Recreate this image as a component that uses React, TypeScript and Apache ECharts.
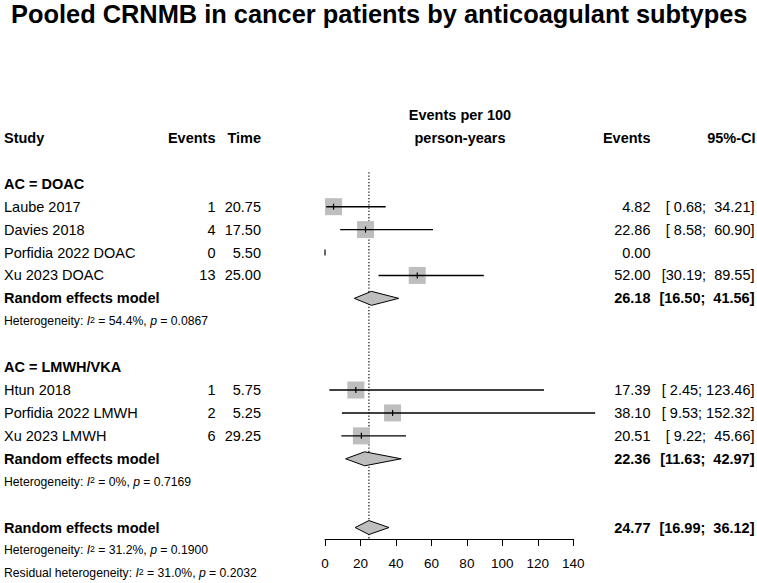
import React, { useEffect, useRef } from "react";
import * as echarts from "echarts";

// ---- data ----
const studies = ["Laube 2017", "Davies 2018", "Porfidia 2022 DOAC", "Xu 2023 DOAC", "Htun 2018", "Porfidia 2022 LMWH", "Xu 2023 LMWH"];
const studyGroup = [0, 0, 0, 0, 1, 1, 1];
const events = [1, 4, 0, 13, 1, 2, 6];
const times = [20.75, 17.5, 5.5, 25.0, 5.75, 5.25, 29.25];
const rates = [4.82, 22.86, 0.0, 52.0, 17.39, 38.1, 20.51];
const lower: (number | null)[] = [0.68, 8.58, null, 30.19, 2.45, 9.53, 9.22];
const upper: (number | null)[] = [34.21, 60.9, null, 89.55, 123.46, 152.32, 45.66];

const groupNames = ["AC = DOAC", "AC = LMWH/VKA"];
const groupRate = [26.18, 22.36];
const groupLower = [16.5, 11.63];
const groupUpper = [41.56, 42.97];
const groupI2 = ["54.4%", "0%"];
const groupP = ["0.0867", "0.7169"];

const overallRate = 24.77;
const overallLower = 16.99;
const overallUpper = 36.12;
const overallI2 = "31.2%";
const overallP = "0.1900";
const residualI2 = "31.0%";
const residualP = "0.2032";

const xTicks = [0, 20, 40, 60, 80, 100, 120, 140];
const title = "Pooled CRNMB in cancer patients by anticoagulant subtypes";

// ---- formatting ----
const FONT = '"Liberation Sans", Arial, Helvetica, sans-serif';
const f2 = (v: number) => v.toFixed(2);
const padL = (s: string, w: number) => " ".repeat(Math.max(0, w - s.length)) + s;
const allLo = [...lower.filter((v) => v !== null), ...groupLower, overallLower].map((v) => f2(v as number));
const allHi = [...upper.filter((v) => v !== null), ...groupUpper, overallUpper].map((v) => f2(v as number));
const wLo = Math.max(...allLo.map((s) => s.length));
const wHi = Math.max(...allHi.map((s) => s.length));
const ciText = (lo: number | null, hi: number | null) =>
  lo === null || hi === null ? "" : `[${padL(f2(lo), wLo)}; ${padL(f2(hi), wHi)}]`;

// ---- layout (columns in px, rows in row units) ----
const X_STUDY = 4;
const X_EVENTS = 215.5;
const X_TIME = 261;
const X_HEAD = 460;
const X_RATE = 650.5;
const X_CI = 754.5;
const FS = 14.5;
const FS_SMALL = 12.2;

type Item = { text: string; x: number; align: string; bold?: boolean; size?: number; rich?: boolean };
type TextRow = { row: number; items: Item[] };

const textRows: TextRow[] = [];
const studyRow: number[] = new Array(studies.length).fill(0);
const groupRow: number[] = [];

textRows.push({ row: 0, items: [{ text: "Events per 100", x: X_HEAD, align: "center", bold: true }] });
textRows.push({
  row: 1,
  items: [
    { text: "Study", x: X_STUDY, align: "left", bold: true },
    { text: "Events", x: X_EVENTS, align: "right", bold: true },
    { text: "Time", x: X_TIME, align: "right", bold: true },
    { text: "person-years", x: X_HEAD, align: "center", bold: true },
    { text: "Events", x: X_RATE, align: "right", bold: true },
    { text: "95%-CI", x: X_CI + 1, align: "right", bold: true },
  ],
});

const hetText = (label: string, i2: string, p: string) => `${label}: {i|I}{sup|2} = ${i2}, {i|p} = ${p}`;

let r = 3;
groupNames.forEach((g, gi) => {
  textRows.push({ row: r, items: [{ text: g, x: X_STUDY, align: "left", bold: true }] });
  r++;
  studies.forEach((s, i) => {
    if (studyGroup[i] !== gi) return;
    studyRow[i] = r;
    textRows.push({
      row: r,
      items: [
        { text: s, x: X_STUDY, align: "left" },
        { text: String(events[i]), x: X_EVENTS, align: "right" },
        { text: f2(times[i]), x: X_TIME, align: "right" },
        { text: f2(rates[i]), x: X_RATE, align: "right" },
        { text: ciText(lower[i], upper[i]), x: X_CI, align: "right" },
      ],
    });
    r++;
  });
  groupRow[gi] = r;
  textRows.push({
    row: r,
    items: [
      { text: "Random effects model", x: X_STUDY, align: "left", bold: true },
      { text: f2(groupRate[gi]), x: X_RATE, align: "right", bold: true },
      { text: ciText(groupLower[gi], groupUpper[gi]), x: X_CI, align: "right", bold: true },
    ],
  });
  r++;
  textRows.push({ row: r, items: [{ text: hetText("Heterogeneity", groupI2[gi], groupP[gi]), x: X_STUDY, align: "left", size: FS_SMALL, rich: true }] });
  r += 2;
});
const overallRow = r;
textRows.push({
  row: r,
  items: [
    { text: "Random effects model", x: X_STUDY, align: "left", bold: true },
    { text: f2(overallRate), x: X_RATE, align: "right", bold: true },
    { text: ciText(overallLower, overallUpper), x: X_CI, align: "right", bold: true },
  ],
});
textRows.push({ row: r + 1, items: [{ text: hetText("Heterogeneity", overallI2, overallP), x: X_STUDY, align: "left", size: FS_SMALL, rich: true }] });
textRows.push({ row: r + 2, items: [{ text: hetText("Residual heterogeneity", residualI2, residualP), x: X_STUDY, align: "left", size: FS_SMALL, rich: true }] });

const diamonds = [
  ...groupRate.map((v, i) => ({ row: groupRow[i], est: v, lo: groupLower[i], hi: groupUpper[i] })),
  { row: overallRow, est: overallRate, lo: overallLower, hi: overallUpper },
];

const SQ = 17;
const DH = 7;
const GRAY = "#bebebe";

export default function App() {
  const ref = useRef<HTMLDivElement>(null);
  useEffect(() => {
    if (!ref.current) return;
    const chart = echarts.init(ref.current, undefined, { renderer: "svg" });
    const option: any = {
      animation: false,
      title: {
        text: title,
        left: 11,
        top: 1,
        padding: 0,
        textStyle: { fontSize: 25.4, fontWeight: "bold", color: "#000", fontFamily: FONT },
      },
      grid: { left: 325, right: 183.7, top: 115, bottom: 44, containLabel: false },
      xAxis: {
        type: "value",
        min: xTicks[0],
        max: xTicks[xTicks.length - 1],
        interval: xTicks[1] - xTicks[0],
        splitLine: { show: false },
        axisLine: { show: true, onZero: false, lineStyle: { color: "#000", width: 1 } },
        axisTick: { show: true, inside: false, length: 7, lineStyle: { color: "#000", width: 1 } },
        axisLabel: { fontSize: 13.5, color: "#000", fontFamily: FONT, margin: 17, showMinLabel: true, showMaxLabel: true },
      },
      yAxis: { type: "value", min: 0, max: 18.5, inverse: true, show: false },
      series: [
        {
          type: "custom",
          name: "ref",
          z: 1,
          clip: false,
          silent: true,
          data: [[overallRate, 2.5, 18.5]],
          renderItem: (params: any, api: any) => {
            const a = api.coord([api.value(0), api.value(1)]);
            const b = api.coord([api.value(0), api.value(2)]);
            return {
              type: "line",
              shape: { x1: a[0], y1: a[1], x2: b[0], y2: b[1] },
              style: { stroke: "#222", lineWidth: 1.3, lineDash: [1.3, 1.9] },
            };
          },
        },
        {
          type: "custom",
          name: "studies",
          z: 3,
          clip: false,
          silent: true,
          data: studies.map((_, i) => [rates[i], studyRow[i]]),
          renderItem: (params: any, api: any) => {
            const i = params.dataIndex;
            const c = api.coord([api.value(0), api.value(1)]);
            const children: any[] = [];
            if (events[i] > 0) {
              children.push({
                type: "rect",
                shape: { x: c[0] - SQ / 2, y: c[1] - SQ / 2, width: SQ, height: SQ },
                style: { fill: GRAY },
              });
            }
            if (lower[i] !== null && upper[i] !== null) {
              const a = api.coord([lower[i], api.value(1)]);
              const b = api.coord([upper[i], api.value(1)]);
              children.push({
                type: "line",
                shape: { x1: a[0], y1: a[1], x2: b[0], y2: b[1] },
                style: { stroke: "#000", lineWidth: 1.4 },
              });
            }
            children.push({
              type: "line",
              shape: { x1: c[0], y1: c[1] - 3, x2: c[0], y2: c[1] + 3 },
              style: { stroke: "#000", lineWidth: 1.2 },
            });
            return { type: "group", children };
          },
        },
        {
          type: "custom",
          name: "diamonds",
          z: 3,
          clip: false,
          silent: true,
          data: diamonds.map((d) => [d.est, d.row, d.lo, d.hi]),
          renderItem: (params: any, api: any) => {
            const row = api.value(1);
            const c = api.coord([api.value(0), row]);
            const lo = api.coord([api.value(2), row]);
            const hi = api.coord([api.value(3), row]);
            return {
              type: "polygon",
              shape: { points: [[lo[0], c[1]], [c[0], c[1] - DH], [hi[0], c[1]], [c[0], c[1] + DH]] },
              style: { fill: GRAY, stroke: "#000", lineWidth: 1 },
            };
          },
        },
        {
          type: "custom",
          name: "table",
          z: 4,
          clip: false,
          silent: true,
          data: textRows.map((t) => [0, t.row]),
          renderItem: (params: any, api: any) => {
            const t = textRows[params.dataIndex];
            const y = api.coord([0, api.value(1)])[1];
            return {
              type: "group",
              children: t.items.map((it) => {
                const size = it.size || FS;
                return {
                  type: "text",
                  x: it.x,
                  y,
                  style: {
                    text: it.text,
                    fill: "#000",
                    fontSize: size,
                    fontFamily: FONT,
                    fontWeight: it.bold ? "bold" : "normal",
                    align: it.align,
                    verticalAlign: "middle",
                    rich: it.rich
                      ? {
                          i: { fontStyle: "italic", fontSize: size, fontFamily: FONT, fill: "#000" },
                          sup: { fontSize: size * 0.72, fontFamily: FONT, fill: "#000", verticalAlign: "top", lineHeight: size * 0.72 },
                        }
                      : undefined,
                  },
                };
              }),
            };
          },
        },
      ],
    };
    chart.setOption(option);
    return () => chart.dispose();
  }, []);
  return <div ref={ref} style={{ width: 757, height: 583, position: "absolute", left: 0, top: 0, background: "#fff" }} />;
}
